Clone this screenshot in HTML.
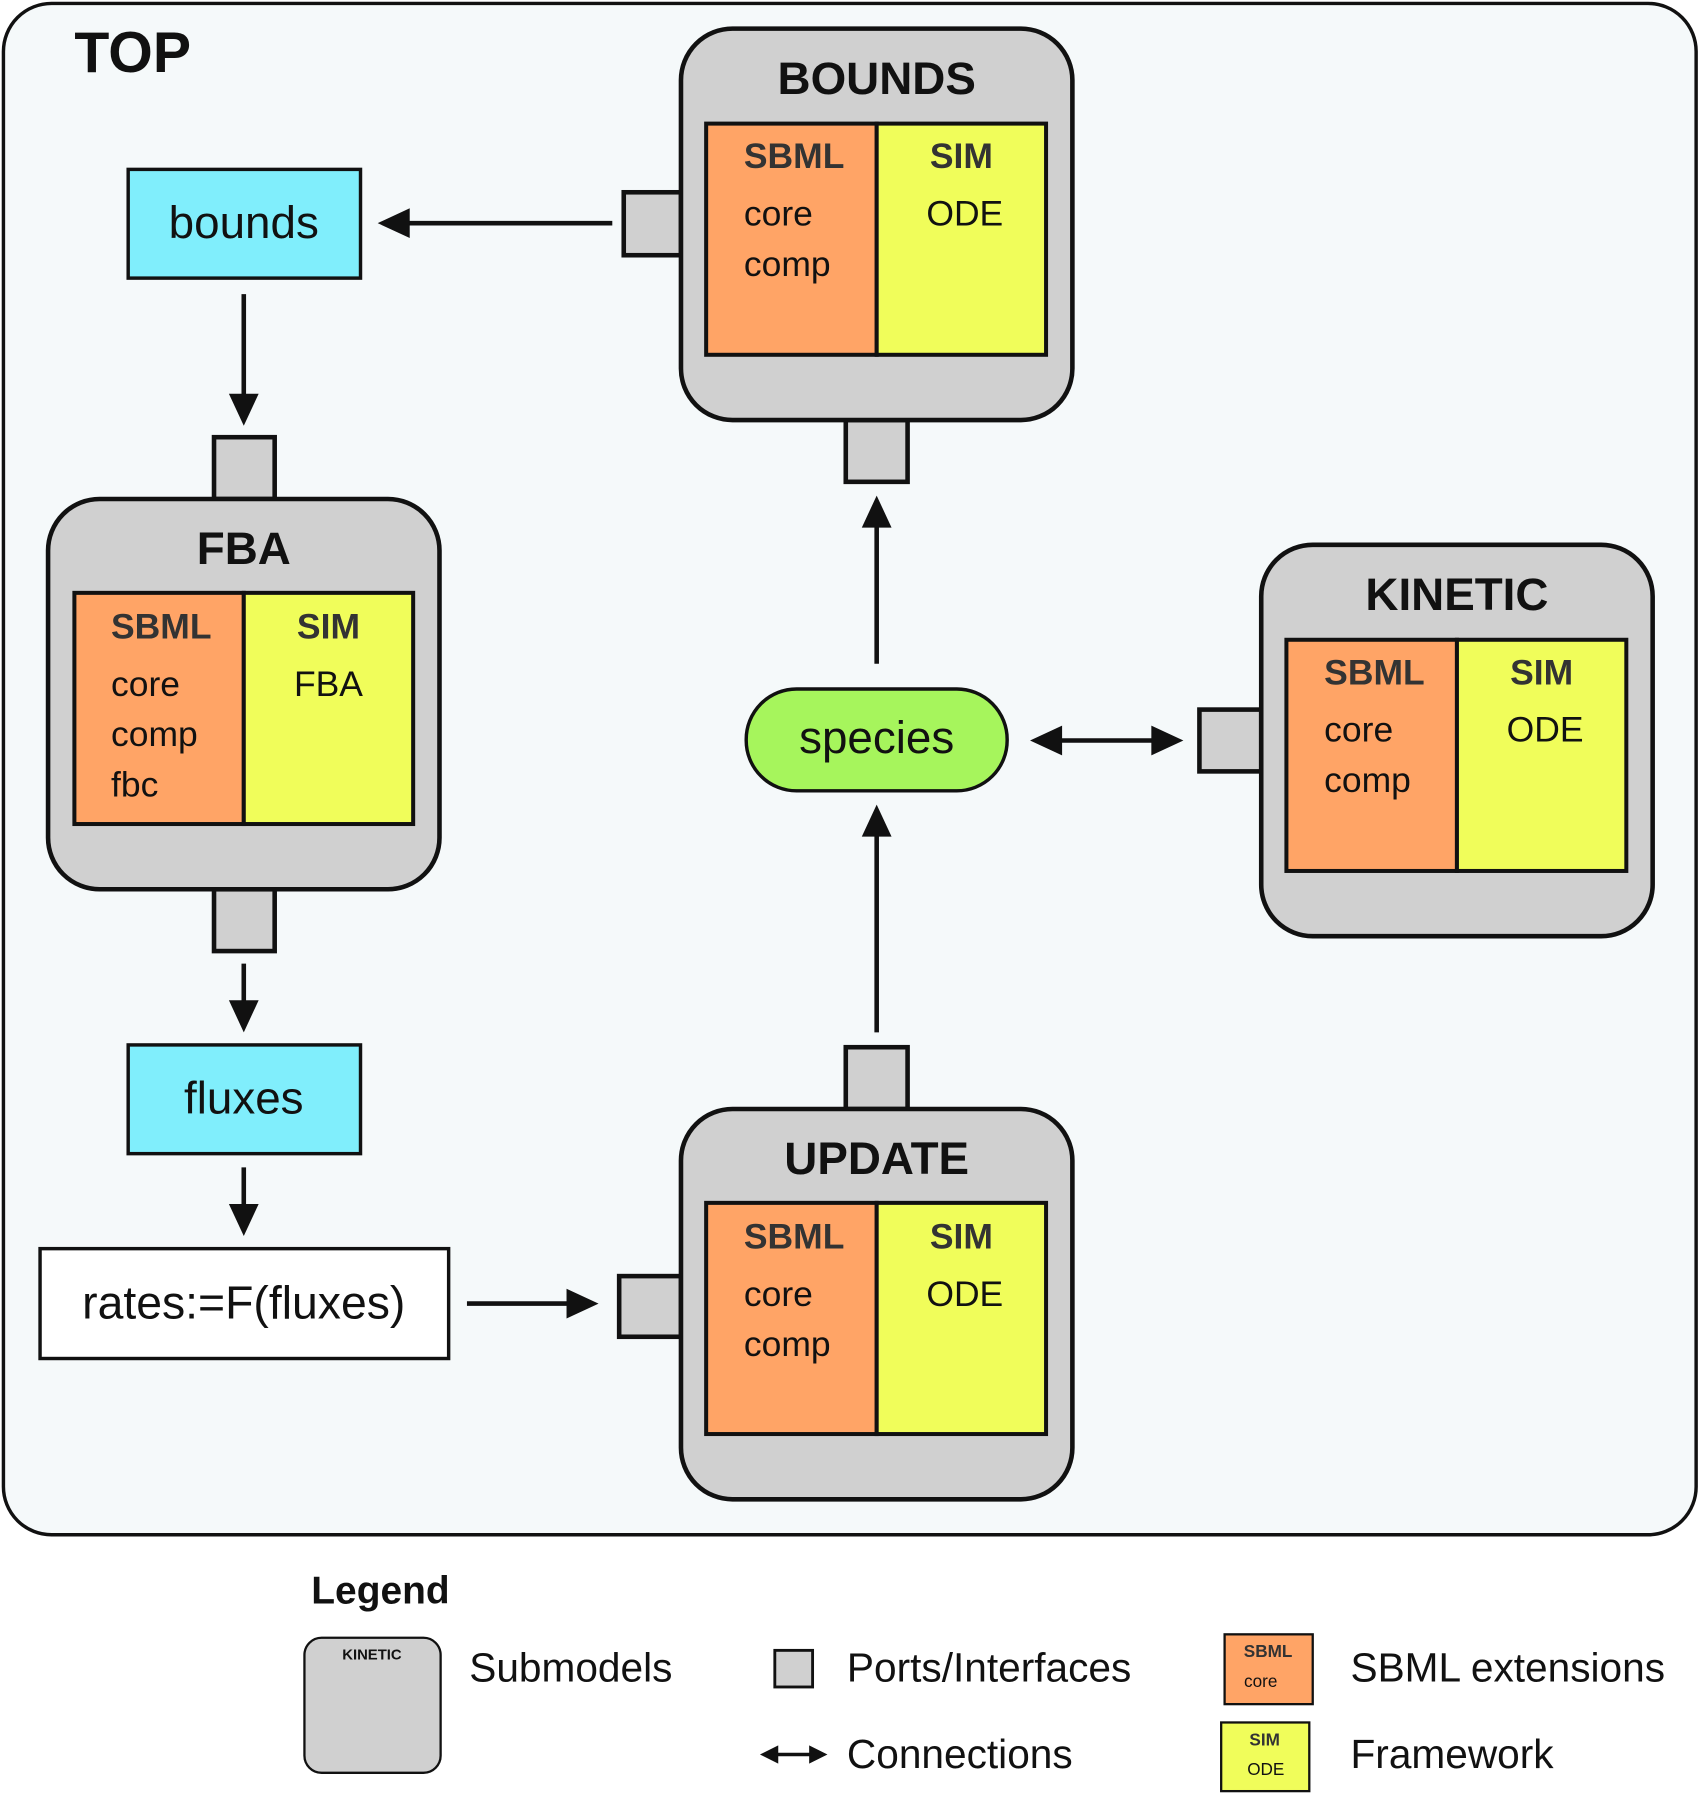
<!DOCTYPE html>
<html><head><meta charset="utf-8"><style>
html,body{margin:0;padding:0;background:#fff;}
svg{display:block;}
text{font-family:"Liberation Sans",sans-serif;}
.t{font-weight:bold;font-size:40px;fill:#111;text-anchor:middle;}
.s{font-size:31px;fill:#111;}
.sb{font-size:31px;fill:#333;font-weight:bold;}
.sub{fill:#d0d0d0;stroke:#111;stroke-width:4;}
.port{fill:#d0d0d0;stroke:#111;stroke-width:4;}
.or{fill:#ffa466;stroke:#111;stroke-width:3.5;}
.ye{fill:#f0fd5a;stroke:#111;stroke-width:3.5;}
.ln{stroke:#111;stroke-width:4;fill:none;}
.lg{font-size:35.5px;fill:#111;}
</style></head><body>
<svg width="1703" height="1798" viewBox="0 0 1488 1571" preserveAspectRatio="none" xmlns="http://www.w3.org/2000/svg">
<rect x="3" y="3" width="1479" height="1338" rx="42" fill="#f5f9fa" stroke="#111" stroke-width="3"/>
<text x="65" y="63" style="font-weight:bold;font-size:50px;fill:#111">TOP</text>

<g fill="#111">
<line class="ln" x1="535" y1="195" x2="350" y2="195"/><path d="M330,195 L358,182 L358,208 z"/>
<line class="ln" x1="213" y1="257" x2="213" y2="350"/><path d="M213,372 L200,344 L226,344 z"/>
<line class="ln" x1="213" y1="842" x2="213" y2="880"/><path d="M213,902 L200,874 L226,874 z"/>
<line class="ln" x1="213" y1="1020" x2="213" y2="1058"/><path d="M213,1080 L200,1052 L226,1052 z"/>
<line class="ln" x1="408" y1="1139" x2="500" y2="1139"/><path d="M523,1139 L495,1126 L495,1152 z"/>
<line class="ln" x1="766" y1="902" x2="766" y2="725"/><path d="M766,703 L753,731 L779,731 z"/>
<line class="ln" x1="766" y1="580" x2="766" y2="455"/><path d="M766,433 L753,461 L779,461 z"/>
<line class="ln" x1="920" y1="647" x2="1012" y2="647"/><path d="M900,647 L928,634 L928,660 z"/><path d="M1034,647 L1006,634 L1006,660 z"/>
</g>

<rect class="port" x="545" y="168" width="50" height="55"/>
<rect class="port" x="739" y="367" width="54" height="54"/>
<rect class="sub" x="595" y="25" width="342" height="342" rx="45"/>
<text class="t" x="766" y="82">BOUNDS</text>
<rect class="or" x="617" y="108" width="149" height="202"/><rect class="ye" x="766" y="108" width="148" height="202"/>
<text class="sb" x="650" y="147">SBML</text><text class="s" x="650" y="197">core</text><text class="s" x="650" y="241">comp</text>
<text class="sb" x="840" y="147" text-anchor="middle">SIM</text><text class="s" x="843" y="197" text-anchor="middle">ODE</text>

<rect x="112" y="148" width="203" height="95" fill="#80eefc" stroke="#111" stroke-width="3"/>
<text x="213" y="208" text-anchor="middle" style="font-size:40px;fill:#111">bounds</text>

<rect class="port" x="187" y="382" width="53" height="54"/>
<rect class="port" x="187" y="777" width="53" height="54"/>
<rect class="sub" x="42" y="436" width="342" height="341" rx="45"/>
<text class="t" x="213" y="493">FBA</text>
<rect class="or" x="65" y="518" width="148" height="202"/><rect class="ye" x="213" y="518" width="148" height="202"/>
<text class="sb" x="97" y="558">SBML</text><text class="s" x="97" y="608">core</text><text class="s" x="97" y="652">comp</text><text class="s" x="97" y="696">fbc</text>
<text class="sb" x="287" y="558" text-anchor="middle">SIM</text><text class="s" x="287" y="608" text-anchor="middle">FBA</text>

<rect x="112" y="913" width="203" height="95" fill="#80eefc" stroke="#111" stroke-width="3"/>
<text x="213" y="973" text-anchor="middle" style="font-size:40px;fill:#111">fluxes</text>

<rect x="35" y="1091" width="357" height="96" fill="#fff" stroke="#111" stroke-width="3"/>
<text x="213" y="1152" text-anchor="middle" style="font-size:40.5px;fill:#111">rates:=F(fluxes)</text>

<rect class="port" x="541" y="1115" width="54" height="53"/>
<rect class="port" x="739" y="915" width="54" height="54"/>
<rect class="sub" x="595" y="969" width="342" height="341" rx="45"/>
<text class="t" x="766" y="1026">UPDATE</text>
<rect class="or" x="617" y="1051" width="149" height="202"/><rect class="ye" x="766" y="1051" width="148" height="202"/>
<text class="sb" x="650" y="1091">SBML</text><text class="s" x="650" y="1141">core</text><text class="s" x="650" y="1185">comp</text>
<text class="sb" x="840" y="1091" text-anchor="middle">SIM</text><text class="s" x="843" y="1141" text-anchor="middle">ODE</text>

<rect x="652" y="602" width="228" height="89" rx="44" fill="#a6f55c" stroke="#111" stroke-width="3"/>
<text x="766" y="658" text-anchor="middle" style="font-size:40px;fill:#111">species</text>

<rect class="port" x="1048" y="620" width="54" height="54"/>
<rect class="sub" x="1102" y="476" width="342" height="342" rx="45"/>
<text class="t" x="1273" y="533">KINETIC</text>
<rect class="or" x="1124" y="559" width="149" height="202"/><rect class="ye" x="1273" y="559" width="148" height="202"/>
<text class="sb" x="1157" y="598">SBML</text><text class="s" x="1157" y="648">core</text><text class="s" x="1157" y="692">comp</text>
<text class="sb" x="1347" y="598" text-anchor="middle">SIM</text><text class="s" x="1350" y="648" text-anchor="middle">ODE</text>

<text x="272" y="1401" style="font-weight:bold;font-size:34px;fill:#111">Legend</text>
<rect x="266" y="1431" width="119" height="118" rx="15" fill="#d0d0d0" stroke="#111" stroke-width="2"/>
<text x="325" y="1450" text-anchor="middle" style="font-size:13px;font-weight:bold;fill:#111">KINETIC</text>
<text class="lg" x="410" y="1469">Submodels</text>
<rect x="677" y="1442" width="33" height="32" fill="#d0d0d0" stroke="#111" stroke-width="2.5"/>
<text class="lg" x="740" y="1469">Ports/Interfaces</text>
<g fill="#111"><line class="ln" x1="675" y1="1533" x2="712" y2="1533" style="stroke-width:3"/><path d="M664,1533 L680,1525 L680,1541 z"/><path d="M723,1533 L707,1525 L707,1541 z"/></g>
<text class="lg" x="740" y="1545">Connections</text>
<rect x="1070" y="1428" width="77" height="61" fill="#ffa466" stroke="#111" stroke-width="2"/>
<text x="1108" y="1448" text-anchor="middle" style="font-size:15px;fill:#333;font-weight:bold">SBML</text>
<text x="1087" y="1474" style="font-size:15px;fill:#111">core</text>
<rect x="1067" y="1505" width="77" height="60" fill="#f0fd5a" stroke="#111" stroke-width="2"/>
<text x="1105" y="1525" text-anchor="middle" style="font-size:15px;fill:#333;font-weight:bold">SIM</text>
<text x="1106" y="1551" text-anchor="middle" style="font-size:15px;fill:#111">ODE</text>
<text class="lg" x="1180" y="1469">SBML extensions</text>
<text class="lg" x="1180" y="1545">Framework</text>
</svg>
</body></html>
